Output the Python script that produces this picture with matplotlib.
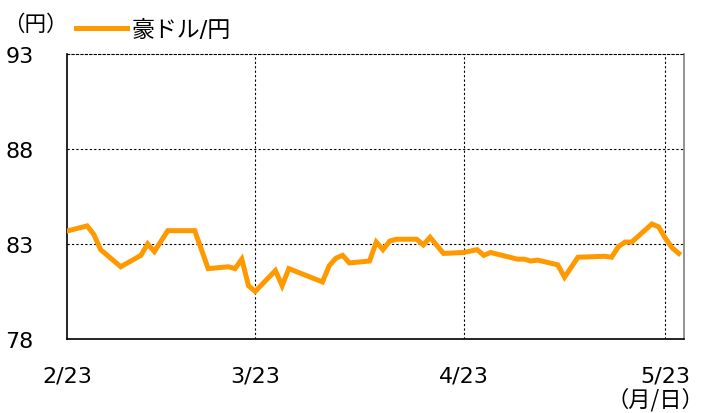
import matplotlib
matplotlib.use("Agg")
import matplotlib.pyplot as plt
import pandas as pd

plt.rcParams['font.family'] = ['DejaVu Sans', 'Noto Sans CJK JP']

dates = ["2023-02-23", "2023-02-26", "2023-02-27", "2023-02-28", "2023-03-03",
         "2023-03-06", "2023-03-07", "2023-03-08", "2023-03-10", "2023-03-14",
         "2023-03-16", "2023-03-19", "2023-03-20", "2023-03-21", "2023-03-22",
         "2023-03-23", "2023-03-26", "2023-03-27", "2023-03-28", "2023-04-02",
         "2023-04-03", "2023-04-04", "2023-04-05", "2023-04-06", "2023-04-09",
         "2023-04-10", "2023-04-11", "2023-04-12", "2023-04-13", "2023-04-16",
         "2023-04-17", "2023-04-18", "2023-04-20", "2023-04-23", "2023-04-25",
         "2023-04-26", "2023-04-27", "2023-05-01", "2023-05-02", "2023-05-03",
         "2023-05-04", "2023-05-07", "2023-05-08", "2023-05-10", "2023-05-14",
         "2023-05-15", "2023-05-16", "2023-05-17", "2023-05-18", "2023-05-21",
         "2023-05-22", "2023-05-23", "2023-05-24", "2023-05-25"]
aud_jpy = [83.68, 83.95, 83.5, 82.7, 81.8,
           82.4, 83.0, 82.6, 83.7, 83.7,
           81.7, 81.8, 81.7, 82.2, 80.8,
           80.5, 81.6, 80.8, 81.7, 81.0,
           81.85, 82.25, 82.4, 82.0, 82.1,
           83.1, 82.7, 83.15, 83.25, 83.25,
           82.95, 83.35, 82.5, 82.55, 82.7,
           82.4, 82.55, 82.2, 82.2, 82.1,
           82.15, 81.9, 81.25, 82.3, 82.35,
           82.3, 82.85, 83.1, 83.1, 84.05,
           83.9, 83.3, 82.8, 82.5]

tick_dates = ["2023-02-23", "2023-03-23", "2023-04-23", "2023-05-23"]
tick_labels = ["2/23", "3/23", "4/23", "5/23"]
y_ticks = [78, 83, 88, 93]

x = pd.to_datetime(dates)
xt = pd.to_datetime(tick_dates)

fig = plt.figure(figsize=(7.05, 4.14), dpi=100)
ax = fig.add_axes([0.095, 0.179, 0.875, 0.688])

ax.plot(x, aud_jpy, color='#FF9900', lw=3.6, solid_joinstyle='miter', label='豪ドル/円', zorder=3)

ax.set_ylim(78, 93)
ax.set_xlim(pd.Timestamp("2023-02-23"), pd.Timestamp("2023-05-25 18:00"))
ax.set_yticks(y_ticks)
ax.set_yticklabels([str(v) for v in y_ticks], fontsize=16)
ax.set_xticks(xt)
ax.set_xticklabels(tick_labels, fontsize=16)
ax.tick_params(axis='both', length=0)
ax.tick_params(axis='y', pad=24)
ax.tick_params(axis='x', pad=19)

for v in [83, 88]:
    ax.axhline(v, color='black', lw=0.8, ls=(0, (2, 2)), zorder=1)
for d in xt[1:]:
    ax.axvline(d, color='black', lw=0.8, ls=(0, (2, 2)), zorder=1)

ax.spines['left'].set_color('black')
ax.spines['left'].set_linewidth(1.2)
ax.spines['bottom'].set_color('black')
ax.spines['bottom'].set_linewidth(1.2)
ax.spines['top'].set_linestyle((0, (2, 2)))
ax.spines['top'].set_linewidth(0.8)
ax.spines['right'].set_color('#808080')
ax.spines['right'].set_linewidth(1.2)

leg = ax.legend(loc='lower left', bbox_to_anchor=(0.0, 1.015), frameon=False,
                fontsize=16.5, handlelength=2.2, handletextpad=0.2, borderaxespad=0)

cjk = ['Noto Sans CJK JP', 'DejaVu Sans']
fig.text(0.005, 0.94, '（円）', fontsize=15.5, ha='left', va='center', family=cjk)
fig.text(0.999, 0.035, '（月/日）', fontsize=16, ha='right', va='center', family=cjk)

fig.savefig('out.png', dpi=100)
